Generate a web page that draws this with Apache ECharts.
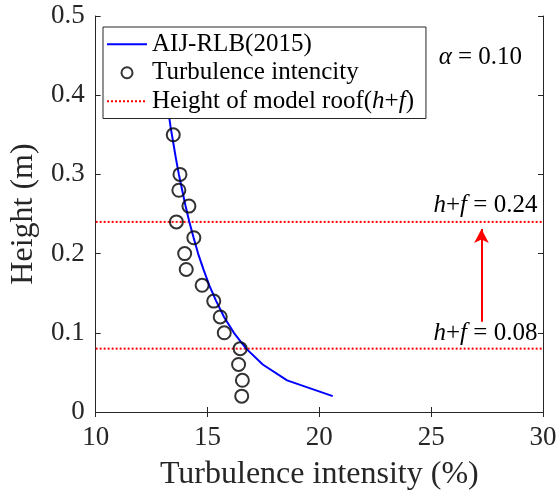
<!DOCTYPE html>
<html>
<head>
<meta charset="utf-8">
<script src="https://cdn.jsdelivr.net/npm/echarts@6/dist/echarts.min.js"></script>
<style>html,body{margin:0;padding:0;background:#fff;}#c{width:560px;height:499px;}</style>
</head>
<body>
<div id="c"></div>
<script>
// ---- data ----
const xTicks = [10, 15, 20, 25, 30];
const yTicks = [0, 0.1, 0.2, 0.3, 0.4, 0.5];
const modelHeights = [0.02,0.04,0.06,0.08,0.10,0.12,0.14,0.16,0.18,0.20,0.22,0.24,0.26,0.28,0.30,0.35];
const turbulence = [16.53,16.56,16.39,16.46,15.75,15.57,15.28,14.76,14.05,13.98,14.39,13.61,14.17,13.72,13.77,13.47];
const aijHeights = [0.02,0.04,0.06,0.08,0.10,0.12,0.14,0.16,0.18,0.20,0.22,0.24,0.26,0.28,0.30,0.32,0.34,0.36,0.38,0.40,0.42,0.44];
const aijValues = [20.6,18.56,17.47,16.73,16.18,15.74,15.39,15.08,14.82,14.58,14.38,14.19,14.02,13.87,13.72,13.59,13.47,13.35,13.25,13.14,13.05,12.96];
const roofHeights = [0.24, 0.08];
const roofLabels = ['0.24', '0.08'];
const roofLabelX = 29.75;
const roofLabelY = [0.261, 0.0997];
const arrowX = 27.25;
const arrowFrom = 0.114;
const arrowTo = 0.231;
const alphaText = '0.10';
const alphaPos = [27.2, 0.448];
const seriesNames = ['AIJ-RLB(2015)', 'Turbulence intencity', 'Height of model roof(h+f)'];

const FONT = 'Liberation Serif';
const AX = '#262626';
const xMin = xTicks[0], xMax = xTicks[xTicks.length - 1];

const chart = echarts.init(document.getElementById('c'));

const richBase = {
  n: { fontFamily: FONT, fontSize: 25, color: '#000' },
  i: { fontFamily: FONT, fontSize: 25, fontStyle: 'italic', color: '#000' }
};

const axisCommon = {
  axisLine: { show: true, lineStyle: { color: AX, width: 1 } },
  axisTick: { show: true, inside: true, length: 5, lineStyle: { color: AX } },
  splitLine: { show: false }
};

const roofSeries = roofHeights.map((h, i) => ({
  name: seriesNames[2],
  type: 'line',
  symbol: 'none',
  z: 2,
  lineStyle: { color: '#ff0000', width: 2, type: 'dotted' },
  itemStyle: { color: '#ff0000' },
  data: [[xMin, h], [xMax, h]],
  markLine: i === 0 ? {
    silent: true,
    symbol: ['none', 'arrow'],
    symbolSize: [11, 14],
    label: { show: false },
    lineStyle: { color: '#ff0000', width: 2, type: 'solid' },
    data: [[{ coord: [arrowX, arrowFrom] }, { coord: [arrowX, arrowTo] }]]
  } : undefined
}));

chart.setOption({
  animation: false,
  backgroundColor: '#fff',
  grid: { left: 92, right: 17, top: 16, bottom: 87, show: false },
  textStyle: { fontFamily: FONT },
  xAxis: [
    Object.assign({}, axisCommon, {
      type: 'value', min: xMin, max: xMax, interval: 5, position: 'bottom',
      axisLabel: { color: AX, fontSize: 27, fontFamily: FONT, margin: 12 },
      name: 'Turbulence intensity (%)', nameLocation: 'middle', nameGap: 47,
      nameTextStyle: { color: AX, fontSize: 32, fontFamily: FONT }
    }),
    Object.assign({}, axisCommon, {
      type: 'value', min: xMin, max: xMax, interval: 5, position: 'top',
      axisLabel: { show: false }
    })
  ],
  yAxis: [
    Object.assign({}, axisCommon, {
      type: 'value', min: 0, max: 0.5, interval: 0.1, position: 'left',
      axisLabel: { color: AX, fontSize: 27, fontFamily: FONT, margin: 11 },
      name: 'Height (m)', nameLocation: 'middle', nameGap: 52,
      nameTextStyle: { color: AX, fontSize: 32, fontFamily: FONT }
    }),
    Object.assign({}, axisCommon, {
      type: 'value', min: 0, max: 0.5, interval: 0.1, position: 'right',
      axisLabel: { show: false }
    })
  ],
  legend: {
    orient: 'vertical',
    left: 103, top: 27,
    padding: [3, 12, 3, 3],
    itemGap: 0,
    itemWidth: 40,
    itemHeight: 11,
    selectedMode: false,
    backgroundColor: '#fff',
    borderColor: '#262626',
    borderWidth: 1,
    data: [
      { name: seriesNames[0], itemStyle: { opacity: 0 } },
      { name: seriesNames[1] },
      { name: seriesNames[2], itemStyle: { opacity: 0 } }
    ],
    formatter: function (n) {
      if (n === seriesNames[2]) return '{n|Height of model roof(}{i|h}{n|+}{i|f}{n|)}';
      return '{n|' + n + '}';
    },
    textStyle: {
      fontFamily: FONT, fontSize: 25, color: '#000', lineHeight: 28.5,
      rich: {
        n: { fontFamily: FONT, fontSize: 25, color: '#000', lineHeight: 28.5 },
        i: { fontFamily: FONT, fontSize: 25, fontStyle: 'italic', color: '#000', lineHeight: 28.5 }
      }
    }
  },
  series: roofSeries.concat([
    {
      name: seriesNames[0],
      type: 'line',
      symbol: 'none',
      z: 3,
      lineStyle: { color: '#0000ff', width: 2 },
      itemStyle: { color: '#0000ff' },
      data: aijHeights.map((h, i) => [aijValues[i], h]),
      markPoint: {
        silent: true,
        symbol: 'circle',
        symbolSize: 0,
        data: [
          {
            coord: alphaPos,
            label: {
              show: true, position: [0, 0], align: 'center', verticalAlign: 'middle',
              formatter: '{i|α}{n| = ' + alphaText + '}',
              fontFamily: FONT, fontSize: 25, color: '#000',
              rich: richBase
            }
          }
        ].concat(roofLabels.map((t, i) => ({
          coord: [roofLabelX, roofLabelY[i]],
          label: {
            show: true, position: [0, 0], align: 'right', verticalAlign: 'middle',
            formatter: '{i|h}{n|+}{i|f}{n| = ' + t + '}',
            fontFamily: FONT, fontSize: 25, color: '#000',
            rich: richBase
          }
        })))
      }
    },
    {
      name: seriesNames[1],
      type: 'scatter',
      symbol: 'circle',
      symbolSize: 13,
      z: 4,
      itemStyle: { color: 'rgba(0,0,0,0)', borderColor: '#000', borderWidth: 2 },
      data: modelHeights.map((h, i) => [turbulence[i], h])
    }
  ])
});
</script>
</body>
</html>
